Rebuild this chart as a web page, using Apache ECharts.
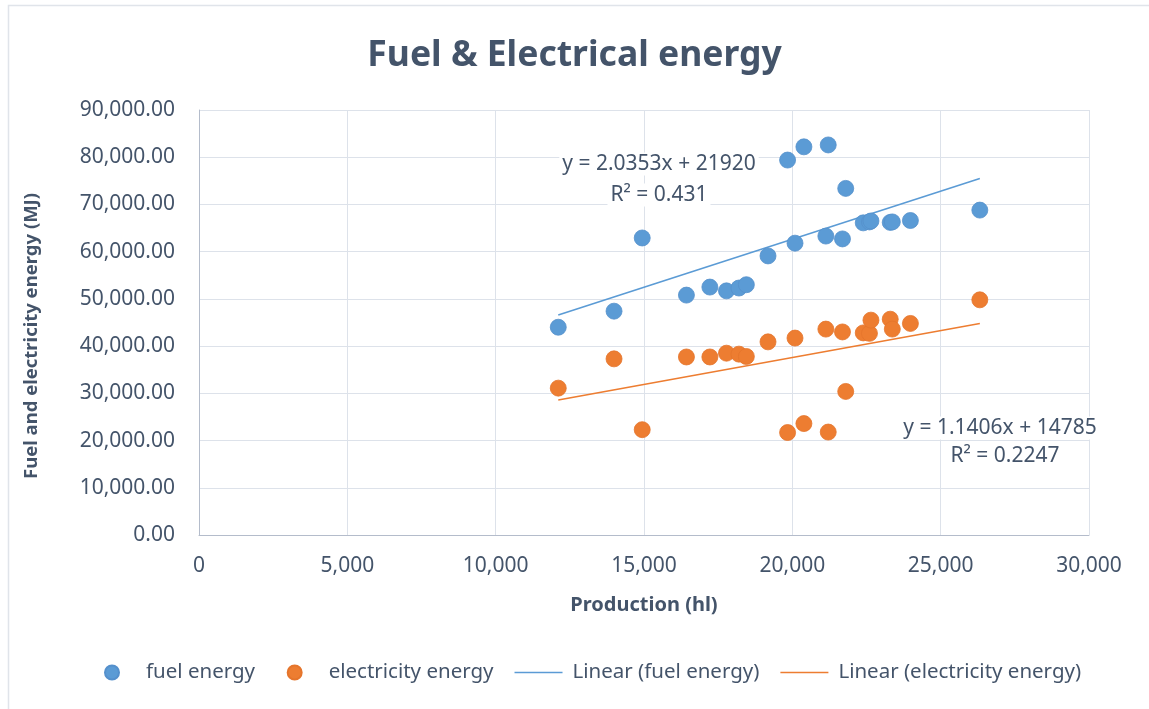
<!DOCTYPE html>
<html>
<head>
<meta charset="utf-8">
<script src="https://cdn.jsdelivr.net/npm/echarts@6/dist/echarts.min.js"></script>
<style>
html,body{margin:0;padding:0;background:#fff;}
#chart{width:1149px;height:709px;}
</style>
</head>
<body>
<div id="chart"></div>
<script>
// Production (hl)
const production = [12110, 13990, 14940, 16430, 17220, 17780, 18200, 18450, 19180, 19840, 20090, 20390, 21130, 21210, 21690, 21800, 22390, 22600, 22650, 23300, 23370, 23980, 26320];
// fuel energy (MJ)
const fuelEnergy = [44000, 47400, 62900, 50800, 52500, 51700, 52300, 53000, 59100, 79400, 61800, 82200, 63300, 82600, 62700, 73400, 66100, 66300, 66500, 66200, 66300, 66600, 68800];
// electricity energy (MJ)
const electricityEnergy = [31100, 37300, 22300, 37700, 37700, 38500, 38300, 37800, 40900, 21700, 41700, 23600, 43600, 21800, 43000, 30400, 42800, 42700, 45500, 45700, 43600, 44800, 49800];
// trendline coefficients as shown on the chart
const fuelTrend = {slope: 2.0353, intercept: 21920, r2: '0.431'};
const elecTrend = {slope: 1.1406, intercept: 14785, r2: '0.2247'};
const xTicks = [0, 5000, 10000, 15000, 20000, 25000, 30000];
const yTicks = [0, 10000, 20000, 30000, 40000, 50000, 60000, 70000, 80000, 90000];

const seriesNames = ['fuel energy', 'electricity energy', 'Linear (fuel energy)', 'Linear (electricity energy)'];

const FONT = 'Noto Sans';
const TXT = '#44546A';
const BLUE = '#5B9BD5';
const ORANGE = '#ED7D31';

const xMin = Math.min(...production), xMax = Math.max(...production);
function trendPts(t) { return [[xMin, t.slope * xMin + t.intercept], [xMax, t.slope * xMax + t.intercept]]; }

function eqLabel(x, y, text) {
  return {type: 'text', x: x, y: y, z: 100, silent: true,
    style: {text: text, fontFamily: FONT, fontSize: 21, fill: TXT, align: 'center', verticalAlign: 'middle',
      backgroundColor: '#fff', padding: [1, 3]}};
}

const chart = echarts.init(document.getElementById('chart'));
chart.setOption({
  backgroundColor: '#fff',
  animation: false,
  title: {
    text: 'Fuel & Electrical energy',
    left: 'center',
    top: 33,
    textStyle: {fontFamily: FONT, fontSize: 35.5, fontWeight: 'bold', color: TXT}
  },
  grid: {left: 199, top: 110, width: 890, height: 425},
  xAxis: {
    type: 'value', min: xTicks[0], max: xTicks[xTicks.length - 1], interval: 5000,
    name: 'Production (hl)', nameLocation: 'middle', nameGap: 60,
    nameTextStyle: {fontFamily: FONT, fontSize: 20, fontWeight: 'bold', color: TXT},
    axisLine: {show: true, lineStyle: {color: '#B4BCCB', width: 1}},
    axisTick: {show: false},
    axisLabel: {fontFamily: FONT, fontSize: 21, color: TXT, margin: 21,
      formatter: v => v.toLocaleString('en-US')},
    splitLine: {show: true, lineStyle: {color: '#DDE2EA', width: 1}}
  },
  yAxis: {
    type: 'value', min: yTicks[0], max: yTicks[yTicks.length - 1], interval: 10000,
    name: 'Fuel and electricity energy (MJ)', nameLocation: 'middle', nameGap: 158,
    nameTextStyle: {fontFamily: FONT, fontSize: 18.5, fontWeight: 'bold', color: TXT, padding: [0, 27, 0, 0]},
    axisLine: {show: true, lineStyle: {color: '#B4BCCB', width: 1}},
    axisTick: {show: false},
    axisLabel: {fontFamily: FONT, fontSize: 21, color: TXT, margin: 24,
      formatter: v => v.toLocaleString('en-US', {minimumFractionDigits: 2, maximumFractionDigits: 2})},
    splitLine: {show: true, lineStyle: {color: '#DDE2EA', width: 1}}
  },
  legend: {
    left: 99, top: 657,
    itemGap: 21, itemWidth: 48, itemHeight: 14,
    textStyle: {fontFamily: FONT, fontSize: 20.5, color: TXT, padding: [0, 0, 0, 5]},
    formatter: name => (name === seriesNames[0] ? name + '\u00a0\u00a0' : name),
    data: [
      {name: seriesNames[0], icon: 'circle'},
      {name: seriesNames[1], icon: 'circle'},
      {name: seriesNames[2], icon: 'path://M0,0H48V1.6H0Z'},
      {name: seriesNames[3], icon: 'path://M0,0H48V1.6H0Z'}
    ]
  },
  graphic: [
    {type: 'rect', silent: true, z: -10, shape: {x: 8.5, y: 5.5, width: 1160, height: 720},
      style: {fill: 'none', stroke: '#E0E4EA', lineWidth: 1.5}},
    eqLabel(659, 164, 'y = ' + fuelTrend.slope + 'x + ' + fuelTrend.intercept),
    eqLabel(659, 195, 'R² = ' + fuelTrend.r2),
    eqLabel(1000, 428, 'y = ' + elecTrend.slope + 'x + ' + elecTrend.intercept),
    eqLabel(1005, 456, 'R² = ' + elecTrend.r2)
  ],
  series: [
    {name: seriesNames[0], type: 'scatter', symbolSize: 16, z: 3,
      itemStyle: {color: BLUE, opacity: 1, borderColor: '#5590CC', borderWidth: 0.8},
      data: production.map((x, i) => [x, fuelEnergy[i]])},
    {name: seriesNames[1], type: 'scatter', symbolSize: 16, z: 3,
      itemStyle: {color: ORANGE, opacity: 1, borderColor: '#E5752C', borderWidth: 0.8},
      data: production.map((x, i) => [x, electricityEnergy[i]])},
    {name: seriesNames[2], type: 'line', symbol: 'none', z: 2,
      lineStyle: {color: BLUE, width: 1.6}, itemStyle: {color: BLUE},
      data: trendPts(fuelTrend)},
    {name: seriesNames[3], type: 'line', symbol: 'none', z: 2,
      lineStyle: {color: ORANGE, width: 1.6}, itemStyle: {color: ORANGE},
      data: trendPts(elecTrend)}
  ]
});
</script>
</body>
</html>
